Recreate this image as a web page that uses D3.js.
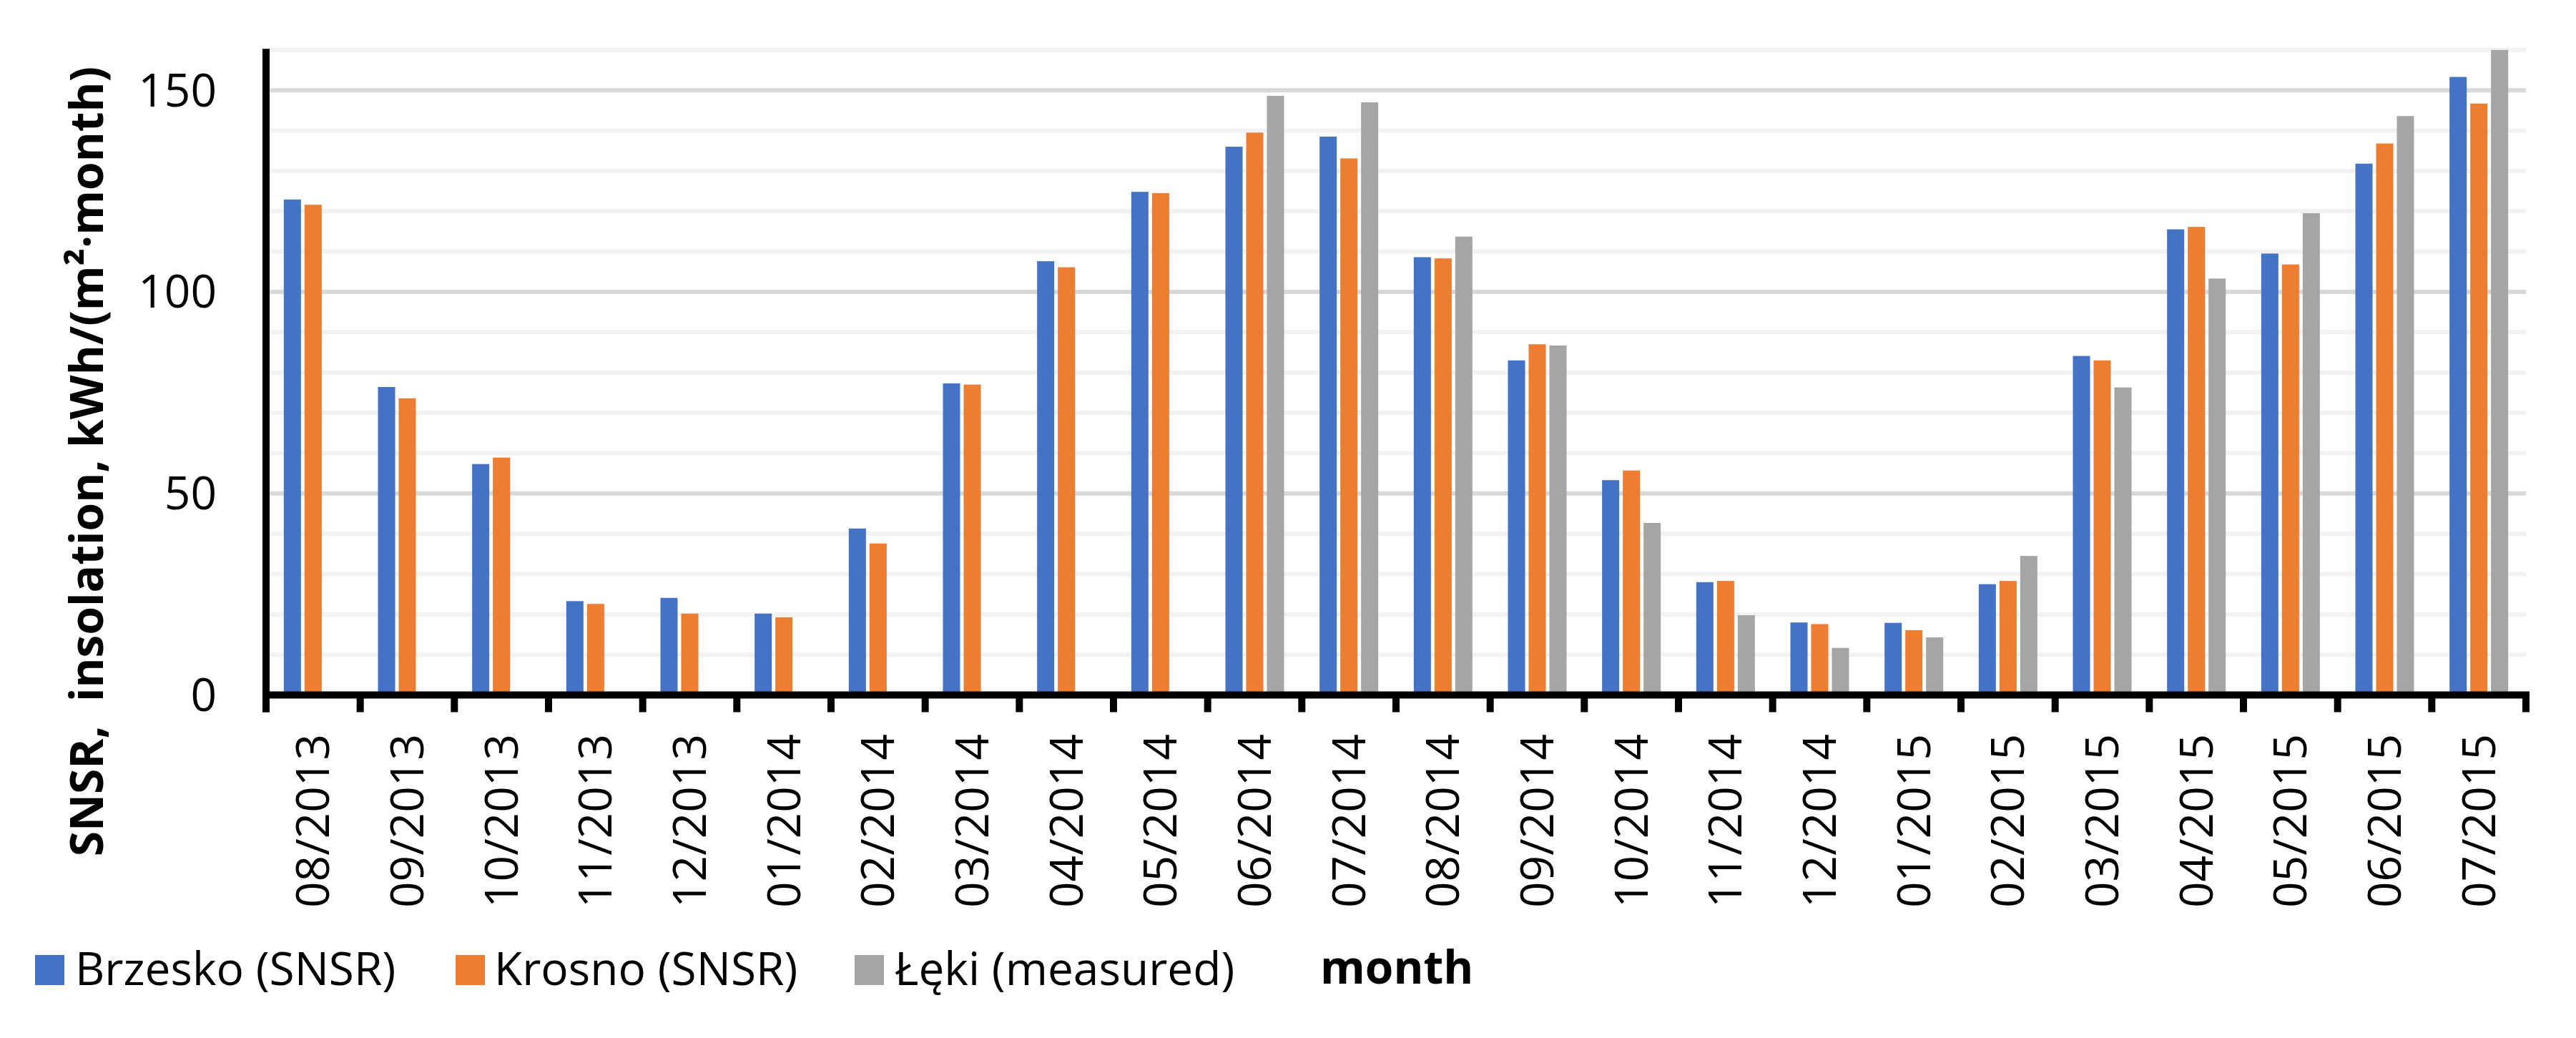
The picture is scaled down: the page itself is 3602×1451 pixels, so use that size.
<!DOCTYPE html>
<html>
<head>
<meta charset="utf-8">
<script src="https://cdn.jsdelivr.net/npm/d3@7"></script>
<style>
  html, body { margin: 0; padding: 0; background: #ffffff; }
  svg { display: block; }
  text { font-family: "Open Sans", "Noto Sans", sans-serif; fill: #000; }
</style>
</head>
<body>
<svg id="chart" width="3602" height="1451"></svg>
<script>
// ---------- data ----------
const categories = ["08/2013","09/2013","10/2013","11/2013","12/2013","01/2014","02/2014","03/2014",
  "04/2014","05/2014","06/2014","07/2014","08/2014","09/2014","10/2014","11/2014","12/2014",
  "01/2015","02/2015","03/2015","04/2015","05/2015","06/2015","07/2015"];

const seriesNames = ["Brzesko (SNSR)", "Krosno (SNSR)", "Łęki (measured)"];

const brzesko = [122.9, 76.4, 57.3, 23.3, 24.1, 20.2, 41.3, 77.3, 107.6, 124.8, 136.0, 138.5,
  108.6, 83.0, 53.3, 28.0, 18.0, 17.9, 27.5, 84.1, 115.5, 109.5, 131.8, 153.3];
const krosno = [121.6, 73.6, 58.9, 22.6, 20.2, 19.3, 37.6, 77.0, 106.1, 124.5, 139.5, 133.1,
  108.3, 87.0, 55.7, 28.3, 17.6, 16.1, 28.3, 83.0, 116.1, 106.8, 136.8, 146.7];
const leki = [null, null, null, null, null, null, null, null, null, null, 148.6, 147.0,
  113.7, 86.7, 42.7, 19.8, 11.7, 14.3, 34.5, 76.3, 103.3, 119.5, 143.6, 160.0];

const yTickLabels = [0, 50, 100, 150];
const yMax = 160;
const yTitle = "SNSR,  insolation, kWh/(m\u00B2\u00B7month)";
const xTitle = "month";

const colors = ["#4472C4", "#ED7D31", "#A5A5A5"];
const seriesValues = [brzesko, krosno, leki];

// ---------- layout ----------
const svg = d3.select("#chart");
const plotLeft = 372, plotRight = 3532, plotTop = 69.8, plotBottom = 971.6;

const x0 = d3.scaleBand().domain(categories).range([plotLeft, plotRight]).padding(0);
const x1 = d3.scaleBand().domain(d3.range(seriesNames.length))
  .range([0, x0.bandwidth()]).paddingInner(0.172).paddingOuter(0.856);
const y = d3.scaleLinear().domain([0, yMax]).range([plotBottom, plotTop]);

// gridlines
const grid = svg.append("g");
d3.range(10, yMax + 1, 10).forEach(v => {
  grid.append("line")
    .attr("x1", plotLeft + 5).attr("x2", plotRight)
    .attr("y1", y(v)).attr("y2", y(v))
    .attr("stroke", v % 50 === 0 ? "#D9D9D9" : "#F2F2F2")
    .attr("stroke-width", 6);
});

// bars
const bars = svg.append("g");
categories.forEach((c, i) => {
  seriesValues.forEach((arr, s) => {
    const v = arr[i];
    if (v === null || v === undefined) return;
    bars.append("rect")
      .attr("x", x0(c) + x1(s))
      .attr("width", x1.bandwidth())
      .attr("y", y(v))
      .attr("height", y(0) - y(v))
      .attr("fill", colors[s]);
  });
});

// y axis line
svg.append("line")
  .attr("x1", plotLeft).attr("x2", plotLeft)
  .attr("y1", plotTop - 1.5).attr("y2", 995.5)
  .attr("stroke", "#000").attr("stroke-width", 10);

// x axis line
svg.append("line")
  .attr("x1", plotLeft - 5).attr("x2", plotRight + 5)
  .attr("y1", plotBottom).attr("y2", plotBottom)
  .attr("stroke", "#000").attr("stroke-width", 10);

// x ticks at category boundaries
const boundaries = categories.map(c => x0(c)).concat([x0.range()[1]]);
boundaries.forEach(bx => {
  svg.append("line")
    .attr("x1", bx).attr("x2", bx)
    .attr("y1", plotBottom).attr("y2", 995.5)
    .attr("stroke", "#000").attr("stroke-width", 10);
});

// x tick labels
categories.forEach(c => {
  const cx = x0(c) + x0.bandwidth() / 2;
  svg.append("text")
    .attr("transform", `translate(${cx},1026) rotate(-90)`)
    .attr("text-anchor", "end")
    .attr("dy", "0.35em")
    .style("font-size", "64px")
    .text(c);
});

// y tick labels
yTickLabels.forEach(v => {
  svg.append("text")
    .attr("x", 303).attr("y", y(v))
    .attr("dy", "0.35em")
    .attr("text-anchor", "end")
    .style("font-size", "64px")
    .text(v);
});

// y axis title
svg.append("text")
  .attr("transform", "translate(144,645) rotate(-90)")
  .attr("text-anchor", "middle")
  .style("font-size", "64px")
  .style("font-weight", "700")
  .style("white-space", "pre")
  .text(yTitle);

// legend
const legendSwatchX = [49, 637, 1195];
const legendTextX = [105, 691, 1251];
const legendBaseline = 1377;
seriesNames.forEach((name, s) => {
  svg.append("rect")
    .attr("x", legendSwatchX[s]).attr("y", legendBaseline - 42)
    .attr("width", 41).attr("height", 42)
    .attr("fill", colors[s]);
  svg.append("text")
    .attr("x", legendTextX[s]).attr("y", legendBaseline)
    .style("font-size", "64px")
    .text(name);
});

// x axis title in legend row
svg.append("text")
  .attr("x", 1846).attr("y", 1375)
  .style("font-size", "64px")
  .style("font-weight", "700")
  .text(xTitle);
</script>
</body>
</html>
